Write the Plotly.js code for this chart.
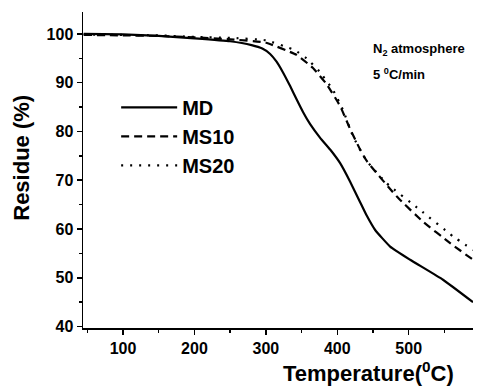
<!DOCTYPE html>
<html><head><meta charset="utf-8">
<script src="https://cdn.plot.ly/plotly-3.0.1.min.js"></script>
<style>html,body{margin:0;padding:0;background:#fff}#c{width:481px;height:389px}</style>
</head><body><div id="c"></div>
<script>
const mdX = [45, 100, 150, 200, 250, 280, 295, 306, 315, 324, 334, 343, 352, 362, 376, 390, 404, 418, 432, 441, 453, 474, 502, 548, 590];
const mdY = [100, 99.9, 99.6, 99.1, 98.5, 97.7, 97.0, 95.9, 94.3, 92.1, 89.3, 86.6, 84.0, 81.5, 78.7, 76.3, 73.5, 69.7, 65.5, 62.8, 59.8, 56.4, 53.7, 49.6, 45];
const ms10X = [45, 100, 150, 200, 250, 300, 343, 366, 385, 404, 418, 432, 441, 483, 520, 558, 590];
const ms10Y = [99.8, 99.7, 99.6, 99.3, 98.9, 98.2, 95.7, 93, 89.7, 85.2, 80.5, 76.3, 74, 66.7, 61.5, 57.1, 53.7];
const ms20X = [45, 100, 150, 200, 250, 300, 340, 357, 375, 394, 408, 422, 441, 469, 516, 562, 590];
const ms20Y = [99.9, 99.8, 99.7, 99.4, 99.2, 98.7, 96.7, 95, 92.3, 88.5, 84.4, 79, 74, 69.4, 63.9, 58.5, 55.7];
const names = ["MD", "MS10", "MS20"];
const xTicks = [100, 200, 300, 400, 500];
const yTicks = [40, 50, 60, 70, 80, 90, 100];

const sp = {shape: 'spline', smoothing: 0.4};
const traces = [
  {x: mdX, y: mdY, name: names[0], mode: 'lines', line: Object.assign({color: '#000', width: 2.2}, sp)},
  {x: ms10X, y: ms10Y, name: names[1], mode: 'lines', line: Object.assign({color: '#000', width: 2.2, dash: '8px,5px'}, sp)},
  {x: ms20X, y: ms20Y, name: names[2], mode: 'lines', line: Object.assign({color: '#000', width: 2.2, dash: '2px,7px'}, sp)}
];
const fam = 'Liberation Sans, Arial, sans-serif';
const tf = {family: fam, size: 16, weight: 'bold', color: '#000'};
const layout = {
  width: 481, height: 389,
  margin: {l: 83, r: 8, t: 12, b: 61},
  paper_bgcolor: '#fff', plot_bgcolor: '#fff',
  showlegend: true,
  legend: {x: 0.085, y: 0.76, xanchor: 'left', yanchor: 'top', bgcolor: 'rgba(0,0,0,0)',
    font: {family: fam, size: 20, weight: 'bold', color: '#000'}, itemwidth: 56, tracegroupgap: 0},
  xaxis: {range: [44, 590], showline: true, linecolor: '#000', linewidth: 1.5, mirror: false,
    showgrid: false, zeroline: false, ticks: 'outside', ticklen: 5, tickwidth: 1.5, tickcolor: '#000',
    tickvals: xTicks, ticktext: xTicks.map(String),
    minor: {tickvals: [50, 150, 250, 350, 450, 550], ticks: 'outside', ticklen: 3, tickwidth: 1.5, tickcolor: '#000'},
    tickfont: tf},
  yaxis: {range: [39.7, 104.5], showline: true, linecolor: '#000', linewidth: 1.5, mirror: false,
    showgrid: false, zeroline: false, ticks: 'outside', ticklen: 5, tickwidth: 1.5, tickcolor: '#000',
    tickvals: yTicks, ticktext: yTicks.map(String),
    minor: {tickvals: [45, 55, 65, 75, 85, 95], ticks: 'outside', ticklen: 3, tickwidth: 1.5, tickcolor: '#000'},
    tickfont: tf},
  annotations: [
    {xref: 'paper', yref: 'paper', x: -0.157, y: 0.538, xanchor: 'center', yanchor: 'middle', showarrow: false, textangle: -90,
     text: 'Residue (%)', font: {family: fam, size: 22, weight: 'bold', color: '#000'}},
    {xref: 'paper', yref: 'paper', x: 0.733, y: -0.14, xanchor: 'center', yanchor: 'middle', showarrow: false,
     text: 'Temperature(<sup>0</sup>C)', font: {family: fam, size: 22, weight: 'bold', color: '#000'}},
    {xref: 'paper', yref: 'paper', x: 0.738, y: 0.88, xanchor: 'left', yanchor: 'middle', showarrow: false, align: 'left',
     text: 'N<sub>2</sub> atmosphere', font: {family: fam, size: 13, weight: 'bold', color: '#000'}},
    {xref: 'paper', yref: 'paper', x: 0.738, y: 0.805, xanchor: 'left', yanchor: 'middle', showarrow: false, align: 'left',
     text: '5 <sup>0</sup>C/min', font: {family: fam, size: 13, weight: 'bold', color: '#000'}}
  ]
};
Plotly.newPlot('c', traces, layout, {displayModeBar: false, staticPlot: true});
</script></body></html>
